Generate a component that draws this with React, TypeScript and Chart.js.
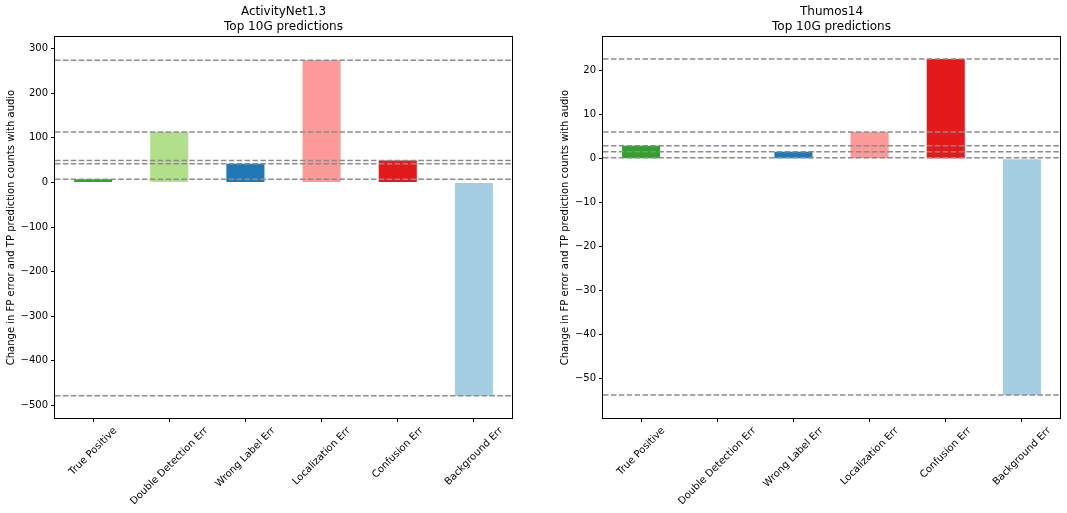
import React, { useEffect, useRef } from "react";
import { Chart, registerables } from "chart.js";

Chart.register(...registerables);

const categories = [
  "True Positive",
  "Double Detection Err",
  "Wrong Label Err",
  "Localization Err",
  "Confusion Err",
  "Background Err",
];
const barColors = ["#33a02c", "#b2df8a", "#1f78b4", "#fb9a99", "#e31a1c", "#a6cee3"];
const activityValues = [7, 113, 42, 274, 49, -478];
const thumosValues = [3.0, 0.25, 1.6, 6.1, 22.7, -53.7];
const activityTicks = [-500, -400, -300, -200, -100, 0, 100, 200, 300];
const thumosTicks = [-50, -40, -30, -20, -10, 0, 10, 20];
const activityTitle = ["ActivityNet1.3", "Top 10G predictions"];
const thumosTitle = ["Thumos14", "Top 10G predictions"];
const yLabel = "Change in FP error and TP prediction counts with audio";

const FONT = "'DejaVu Sans', 'Liberation Sans', sans-serif";

type Panel = {
  values: number[];
  ticks: number[];
  title: string[];
  left: number;
  width: number;
  yAxisWidth: number;
  padRight: number;
  yMin: number;
  yMax: number;
  yLabelX: number;
};

const panels: Panel[] = [
  {
    values: activityValues,
    ticks: activityTicks,
    title: activityTitle,
    left: 0,
    width: 530,
    yAxisWidth: 55,
    padRight: 18,
    yMin: -528,
    yMax: 326,
    yLabelX: 11,
  },
  {
    values: thumosValues,
    ticks: thumosTicks,
    title: thumosTitle,
    left: 530,
    width: 537,
    yAxisWidth: 73,
    padRight: 7,
    yMin: -58.9,
    yMax: 27.7,
    yLabelX: 35,
  },
];

const HEIGHT = 513;

function ChartPanel({ panel }: { panel: Panel }) {
  const ref = useRef<HTMLCanvasElement | null>(null);
  useEffect(() => {
    const canvas = ref.current;
    if (!canvas) return;
    const overlay = {
      id: "overlay",
      afterDatasetsDraw(chart: any) {
        const { ctx, chartArea } = chart;
        const y = chart.scales.y;
        ctx.save();
        ctx.strokeStyle = "#8c8c8c";
        ctx.lineWidth = 1.5;
        ctx.setLineDash([5.5, 2.4]);
        panel.values.forEach((v) => {
          const py = y.getPixelForValue(v);
          ctx.beginPath();
          ctx.moveTo(chartArea.left, py);
          ctx.lineTo(chartArea.right, py);
          ctx.stroke();
        });
        ctx.restore();
      },
      afterDraw(chart: any) {
        const { ctx, chartArea } = chart;
        const x = chart.scales.x;
        ctx.save();
        // frame
        ctx.strokeStyle = "#000";
        ctx.lineWidth = 1;
        ctx.setLineDash([]);
        const l = Math.round(chartArea.left) - 0.5;
        const r = Math.round(chartArea.right) + 0.5;
        const t = Math.round(chartArea.top) - 0.5;
        const b = Math.round(chartArea.bottom) + 0.5;
        ctx.strokeRect(l, t, r - l, b - t);
        // title
        ctx.fillStyle = "#000";
        ctx.font = `12px ${FONT}`;
        ctx.textAlign = "center";
        ctx.textBaseline = "middle";
        const cx = (chartArea.left + chartArea.right) / 2;
        ctx.fillText(panel.title[0], cx, 12);
        ctx.fillText(panel.title[1], cx, 27);
        // y label
        ctx.font = `10px ${FONT}`;
        ctx.save();
        ctx.translate(panel.yLabelX, (chartArea.top + chartArea.bottom) / 2);
        ctx.rotate(-Math.PI / 2);
        ctx.fillText(yLabel, 0, 0);
        ctx.restore();
        // x labels rotated 45, centered on tick
        const h = 11.6;
        const c = Math.SQRT1_2;
        categories.forEach((cat, i) => {
          const px = x.getPixelForValue(i);
          const w = ctx.measureText(cat).width;
          const H = (w + h) * c;
          const topY = chartArea.bottom + 7;
          ctx.save();
          ctx.translate(px, topY + H / 2);
          ctx.rotate(-Math.PI / 4);
          ctx.fillText(cat, 0, 0);
          ctx.restore();
        });
        ctx.restore();
      },
    };
    const chart = new Chart(canvas, {
      type: "bar",
      data: {
        labels: categories,
        datasets: [
          {
            data: panel.values,
            backgroundColor: barColors,
            borderWidth: 0,
            barPercentage: 0.5,
            categoryPercentage: 1.0,
          },
        ],
      },
      options: {
        responsive: false,
        animation: false,
        devicePixelRatio: 1,
        layout: { padding: { top: 37, right: panel.padRight, left: 0, bottom: 0 } },
        plugins: {
          legend: { display: false },
          tooltip: { enabled: false },
          title: { display: false },
        },
        scales: {
          x: {
            type: "category",
            offset: true,
            grid: {
              offset: false,
              drawOnChartArea: false,
              drawTicks: true,
              tickLength: 4,
              color: "#000",
            },
            border: { display: false },
            ticks: { display: false },
            afterFit: (scale: any) => {
              scale.height = HEIGHT - 418;
            },
          },
          y: {
            type: "linear",
            min: panel.yMin,
            max: panel.yMax,
            grid: {
              drawOnChartArea: false,
              drawTicks: true,
              tickLength: 4,
              color: "#000",
            },
            border: { display: false },
            afterBuildTicks: (scale: any) => {
              scale.ticks = panel.ticks.map((v) => ({ value: v }));
            },
            afterFit: (scale: any) => {
              scale.width = panel.yAxisWidth;
            },
            ticks: {
              padding: 3,
              color: "#000",
              font: { family: FONT, size: 10 },
              callback: (v: any) => String(v).replace("-", "\u2212"),
            },
          },
        },
      },
      plugins: [overlay],
    });
    return () => chart.destroy();
  }, [panel]);
  return (
    <canvas
      ref={ref}
      width={panel.width}
      height={HEIGHT}
      style={{
        position: "absolute",
        left: panel.left,
        top: 0,
        width: panel.width,
        height: HEIGHT,
      }}
    />
  );
}

export default function App() {
  return (
    <div
      style={{
        position: "fixed",
        left: 0,
        top: 0,
        width: 1067,
        height: HEIGHT,
        background: "#fff",
      }}
    >
      {panels.map((p, i) => (
        <ChartPanel key={i} panel={p} />
      ))}
    </div>
  );
}
